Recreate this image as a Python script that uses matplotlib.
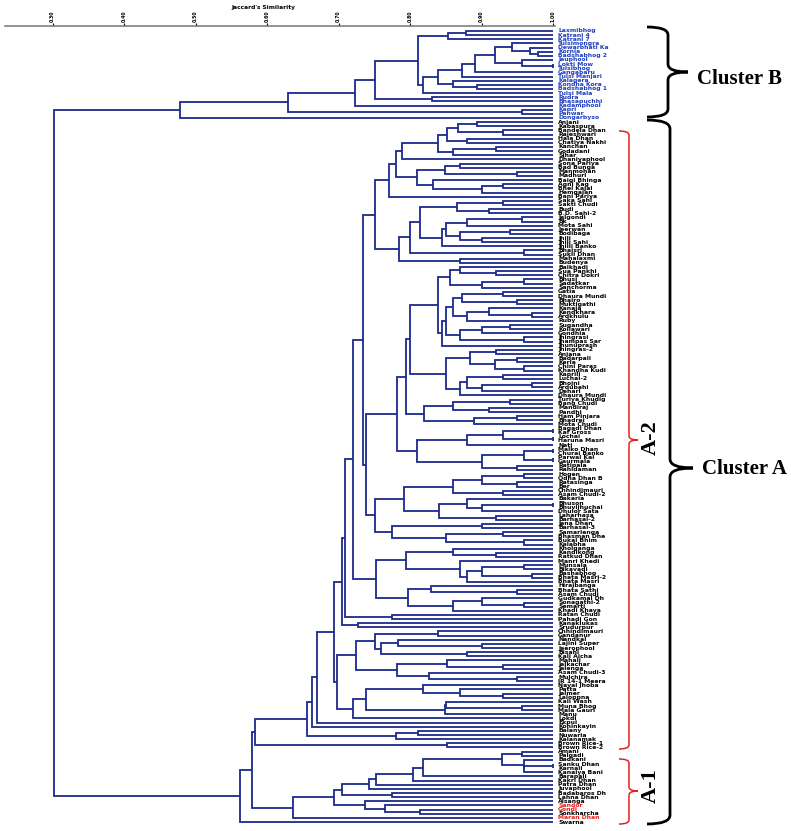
import matplotlib.pyplot as plt
from matplotlib.path import Path
from matplotlib.patches import PathPatch

# leaf labels, top to bottom
cluster_b = ["Laxmibhog", "Katrani 4", "Katrani 7", "Tulsimongra", "Dewarbhati Ka",
             "Kornia", "Badshabhog 2", "Jauphool", "Lokti Mow", "Tulsibhog",
             "Gangabaru", "Tulsi Manjari", "Kalagera", "Kondha Kora", "Badshabhog 1",
             "Tulsi Mala", "Rudra", "Bhasapuchhi", "Kadamphool", "Kapri",
             "Panwar", "Dongarbyso"]
cluster_a = [
    "Anjani", "Kabaspura", "Bandela Dhan", "Rajeshwari", "Hala Dhan",
    "Chatiya Nakhi", "Kanchan", "Godadani", "Sihar", "Dhaniyaphool",
    "Sona Pariya", "Bad Bunga", "Manmohan", "Madhuri", "Baigi Bhinga",
    "Agni Kag", "Bhel Kajal", "Hemgajan", "Bani Pariya", "Saka Sahi",
    "Sakti Chudi", "Budi", "B.D. Sahi-2", "Jalgondi", "Bk",
    "Mota Sahi", "Jeerwan", "Bodibaga", "Jhili", "Jhili Sahi",
    "Jhilli Banko", "Bhaisri", "Sukli Dhan", "Mahalaxmi", "Budenya",
    "Balkhadi", "Sua Pankhi", "Chitra Dokri", "Bhusi", "Sadatkar",
    "Sanchorma", "Gatia", "Dhaura Mundi", "Bhairo", "Muktigathi",
    "Kanaja", "Kendkhara", "Ardkhulu", "Ruby", "Sugandha",
    "Koliawari", "Gondhia", "Jhingrasi", "Jhampas Sar", "Jhunuprash",
    "Jhingras-2", "Anjana", "Badarpali", "Kerla", "Chini Paras",
    "Khandha Kudi", "Kaprili", "Luchai-2", "Bhojni", "Ardubahi",
    "Dehari", "Dhaura Mundi", "Turiya Khudig", "Bang Chudi", "Mandiraj",
    "Pandhi", "Ham Pinjara", "Bhadrei", "Mota Chudi", "Bagadi Dhan",
    "Kaf Gross", "Lochai", "Haruna Masri", "Nati", "Malko Dhan",
    "Churai Banko", "Parwal Kal", "Gaurmala", "Ratipala", "Rahidaman",
    "Hogen", "Odha Dhan B", "Ratasinga", "Ber", "Chhindimauri",
    "Asam Chudi-2", "Bakaria", "Bhuson", "Bhuvijhuchai", "Dhulor Sata",
    "Laharhasa", "Barhasal-2", "Jana Dhan", "Barhasal-3", "Samarlenga",
    "Bhasman Dhe", "Bukal Bhim", "Kalabha", "Kholganga", "Kandikong",
    "Ratkud Dhan", "Manri Khedi", "Munsala", "Bikavadi", "Bashabhog",
    "Bhata Masri-2", "Bhata Masri", "Hirajbanga", "Bhata Sathi", "Asam Chudi",
    "Gudkamal Dh", "Sonagathi-2", "Semarti", "Khadi Khaya", "Ratan Chudi",
    "Pahadi Gon", "Kanaklukas", "Srudurpur", "Chhindimauri", "Gandanur",
    "Nandkal", "Lajini Super", "Jeerophool", "Bisahi", "Kali Aicha",
    "Mahali", "Jalkachar", "Jalenga", "Asam Chudi-3", "Mulchira",
    "IR 14-1 Meera", "Nayal Jhoba", "Patta", "Jalmer", "Laloppna",
    "Kali Wash", "Muna Bhog", "Mala Gauri", "Manu", "Lokdi",
    "Ekpui", "Kohinkayin", "Balany", "Nuwaria", "Kalanamak",
    "Brown Rice-1", "Brown Rice-2", "Amani", "Palgadi", "Badkani",
    "Sanku Dhan", "Karnali", "Kanaiya Bani", "Barapali", "Kakri Dhan",
    "Patra Dhan", "Juvaphool", "Badabaros Dh", "Lahna Dhan", "Alsanga",
    "Sandor", "Gondi", "Sonkharcha", "Maran Dhan", "Swarna"]
red_labels = ["Sandor", "Gondi", "Maran Dhan"]

# Jaccard similarity at which each leaf meets the leaf below it
joins_b = [0.878, 0.853, 0.811, 0.943, 0.968, 0.979, 0.919, 0.957, 1.0, 0.891,
           0.873, 0.839, 0.86, 0.894, 0.818, 0.751, 0.831, 0.723, 0.629, 0.957,
           0.478]
join_root = 0.302
joins_a = [
    0.894, 0.867, 0.93, 0.852, 0.88, 0.839, 0.92, 0.86, 0.789, 0.781,
    0.87, 0.849, 0.95, 0.81, 0.832, 0.93, 0.9, 0.770, 0.751, 0.93,
    0.866, 0.91, 0.814, 0.957, 0.88, 0.85, 0.94, 0.87, 0.9, 0.845,
    0.80, 0.96, 0.785, 0.87, 0.734, 0.87, 0.92, 0.856, 0.96, 0.9,
    0.839, 0.93, 0.873, 0.95, 0.86, 0.91, 0.97, 0.88, 0.85, 0.94,
    0.9, 0.87, 0.96, 0.845, 0.80, 0.92, 0.884, 0.95, 0.919, 0.96,
    0.85, 0.93, 0.88, 0.97, 0.9, 0.87, 0.794, 0.94, 0.86, 0.91,
    0.82, 0.95, 0.89, 0.782, 1.0, 0.93, 1.0, 0.88, 0.81, 1.0,
    0.96, 1.0, 0.9, 0.95, 0.738, 0.96, 0.9, 0.95, 0.86, 0.93,
    0.792, 0.88, 1.0, 0.9, 0.84, 0.92, 0.751, 0.9, 0.775, 0.93,
    0.85, 0.96, 0.72, 0.86, 0.92, 0.794, 0.87, 0.96, 0.9, 0.97,
    0.88, 0.753, 0.83, 0.95, 0.797, 0.9, 0.96, 0.86, 0.709, 0.775,
    0.705, 0.727, 0.694, 0.839, 0.751, 0.783, 0.9, 0.76, 0.88, 0.725,
    0.852, 0.93, 0.782, 0.826, 0.95, 0.698, 0.818, 0.87, 0.93, 0.738,
    0.85, 0.957, 0.849, 0.72, 0.670, 0.663, 0.656, 0.811, 0.78, 0.583,
    0.852, 0.579, 0.957, 0.929, 0.96, 1.0, 0.96, 0.818, 0.804, 0.753,
    0.742, 0.705, 0.775, 0.694, 0.737, 0.765, 0.814, 0.637, 0.562]

ticks = [0.3, 0.4, 0.5, 0.6, 0.7, 0.8, 0.9, 1.0]

labels = cluster_b + cluster_a
joins = joins_b + [join_root] + joins_a
assert len(joins) == len(labels) - 1, (len(joins), len(labels))

W, H = 791, 831
N = len(labels)
Y_FIRST, Y_LAST = 31, 822
STEP = (Y_LAST - Y_FIRST) / (N - 1)
LINE = "#1b2a8c"


def sim_at(px):
    return 1 - (553 - px) / 715


fig = plt.figure(figsize=(W / 100, H / 100), dpi=100)
ax = fig.add_axes([5 / W, (H - 828) / H, 550 / W, (828 - 26) / H])
ax.set_xlim(sim_at(5), sim_at(555))
ax.set_ylim((828 - Y_FIRST) / STEP, (26 - Y_FIRST) / STEP)
for side in ["left", "right", "bottom"]:
    ax.spines[side].set_visible(False)
ax.spines["top"].set_color("#808080")
ax.spines["top"].set_linewidth(1.2)
ax.set_yticks([])
ax.xaxis.tick_top()
ax.set_xticks(ticks)
ax.set_xticklabels([f"{t:.2f}" for t in ticks], rotation=90, fontsize=3.3,
                   fontweight="bold")
ax.tick_params(axis="x", direction="out", length=2.5, width=0.8, pad=0.5)


def draw(lo, hi):
    if lo == hi:
        return 1.0, lo
    k = min(range(lo, hi), key=lambda j: joins[j])
    s = joins[k]
    xl, yl = draw(lo, k)
    xr, yr = draw(k + 1, hi)
    ax.plot([xl, s, s, xr], [yl, yl, yr, yr], color=LINE, lw=1.3,
            solid_joinstyle="miter", solid_capstyle="butt")
    return s, (yl + yr) / 2


root_x, root_y = draw(0, N - 1)

for i, name in enumerate(labels):
    if i < len(cluster_b):
        col = "#1f3fc0"
    elif name in red_labels:
        col = "#e8201c"
    else:
        col = "black"
    ax.text(sim_at(558), i, name, fontsize=4.4, color=col, va="center",
            ha="left", fontweight="bold", family="DejaVu Sans",
            clip_on=False)

fig.text(263 / W, 1 - 7 / H, "Jaccard's Similarity", fontsize=4.2,
         ha="center", va="center", fontweight="bold")


def to_fig(x, y):
    return x / W, 1 - y / H


def brace(x0, x1, y0, y1, ym, tip, r, color, lw):
    # vertical brace opening to the left, with its tip pointing right
    pts = [(x0, y0), (x1, y0), (x1, y0 + r), (x1, ym - r), (x1, ym), (tip, ym),
           (x1, ym), (x1, ym + r), (x1, y1 - r), (x1, y1), (x0, y1)]
    codes = [Path.MOVETO, Path.CURVE3, Path.CURVE3, Path.LINETO, Path.CURVE3,
             Path.CURVE3, Path.CURVE3, Path.CURVE3, Path.LINETO, Path.CURVE3,
             Path.CURVE3]
    patch = PathPatch(Path([to_fig(*p) for p in pts], codes), facecolor="none",
                      edgecolor=color, lw=lw, transform=fig.transFigure)
    fig.patches.append(patch)


brace(647, 668, 27, 117, 72, 688, 8, "black", 2.0)
brace(647, 670, 120, 824, 468, 693, 9, "black", 2.0)
brace(619, 629, 131, 749, 440, 638, 4, "#e8201c", 1.1)
brace(619, 629, 759, 824, 791, 638, 4, "#e8201c", 1.1)

serif = dict(family="Liberation Serif", fontweight="bold", color="black")
fig.text(697 / W, 1 - 79 / H, "Cluster B", fontsize=15, ha="left",
         va="center", **serif)
fig.text(702 / W, 1 - 469 / H, "Cluster A", fontsize=15, ha="left",
         va="center", **serif)
fig.text(651 / W, 1 - 438 / H, "A-2", fontsize=16, ha="center",
         va="center", rotation=90, **serif)
fig.text(651 / W, 1 - 786 / H, "A-1", fontsize=16, ha="center",
         va="center", rotation=90, **serif)

fig.savefig("out.png", dpi=100)
